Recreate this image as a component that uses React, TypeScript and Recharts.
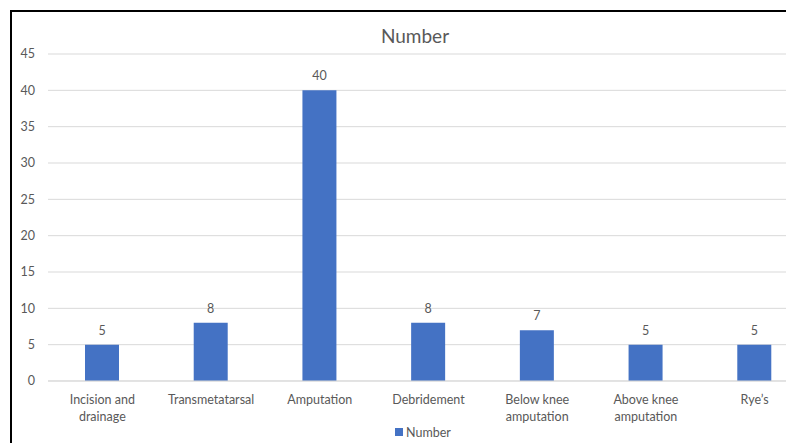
import React from "react";
import { BarChart, Bar, XAxis, YAxis, CartesianGrid, Legend, LabelList, Text } from "recharts";

const categories = [
  "Incision and drainage",
  "Transmetatarsal",
  "Amputation",
  "Debridement",
  "Below knee amputation",
  "Above knee amputation",
  "Rye\u2019s",
];
const counts = [5, 8, 40, 8, 7, 5, 5];
const yTicks = [0, 5, 10, 15, 20, 25, 30, 35, 40, 45];
const seriesName = "Number";

const data = categories.map((c, i) => ({ name: c, value: counts[i] }));

const FONT = "Lato, 'Open Sans', sans-serif";
const GREY = "#595959";

const XTick = (props: any) => {
  const { x, y, payload } = props;
  return (
    <Text
      x={x}
      y={y}
      width={100}
      textAnchor="middle"
      verticalAnchor="start"
      lineHeight={17}
      fontSize={12.5}
      fontFamily={FONT}
      fill={GREY}
    >
      {payload.value}
    </Text>
  );
};

const LegendContent = () => (
  <div style={{ display: "flex", alignItems: "center", height: 20, fontFamily: FONT, fontSize: 12.5, color: GREY }}>
    <span style={{ display: "inline-block", width: 8, height: 8, background: "#4472C4", marginRight: 3 }} />
    <span>{seriesName}</span>
  </div>
);

export default function App() {
  return (
    <div style={{ position: "fixed", left: 0, top: 0, width: 786, height: 443, overflow: "hidden", background: "#fff" }}>
      <div
        style={{
          position: "absolute",
          left: 10,
          top: 10,
          width: 806,
          height: 440,
          border: "2px solid #000",
          background: "#fff",
        }}
      >
        <div
          style={{
            position: "absolute",
            left: 0,
            top: 14,
            width: 806,
            textAlign: "center",
            fontFamily: FONT,
            fontSize: 19,
            lineHeight: "19px",
            color: GREY,
          }}
        >
          {seriesName}
        </div>
        <BarChart
          width={806}
          height={440}
          data={data}
          margin={{ top: 42, right: 9, bottom: 0, left: 0 }}
        >
          <CartesianGrid horizontal vertical={false} stroke="#D9D9D9" />
          <XAxis
            dataKey="name"
            axisLine={{ stroke: "#D9D9D9" }}
            tickLine={false}
            tickSize={0}
            tickMargin={14}
            height={51}
            interval={0}
            tick={<XTick />}
          />
          <YAxis
            domain={[0, 45]}
            ticks={yTicks}
            width={36}
            axisLine={false}
            tickLine={false}
            tickSize={0}
            tickMargin={13}
            tick={{ fontSize: 12.5, fontFamily: FONT, fill: GREY }}
          />
          <Legend
            content={<LegendContent />}
            verticalAlign="bottom"
            wrapperStyle={{ top: 410, left: 383, width: "auto", height: 20 }}
          />
          <Bar dataKey="value" name={seriesName} fill="#4472C4" barSize={34} isAnimationActive={false}>
            <LabelList
              dataKey="value"
              position="top"
              offset={10}
              fontSize={12.5}
              fontFamily={FONT}
              fill={GREY}
            />
          </Bar>
        </BarChart>
      </div>
    </div>
  );
}
